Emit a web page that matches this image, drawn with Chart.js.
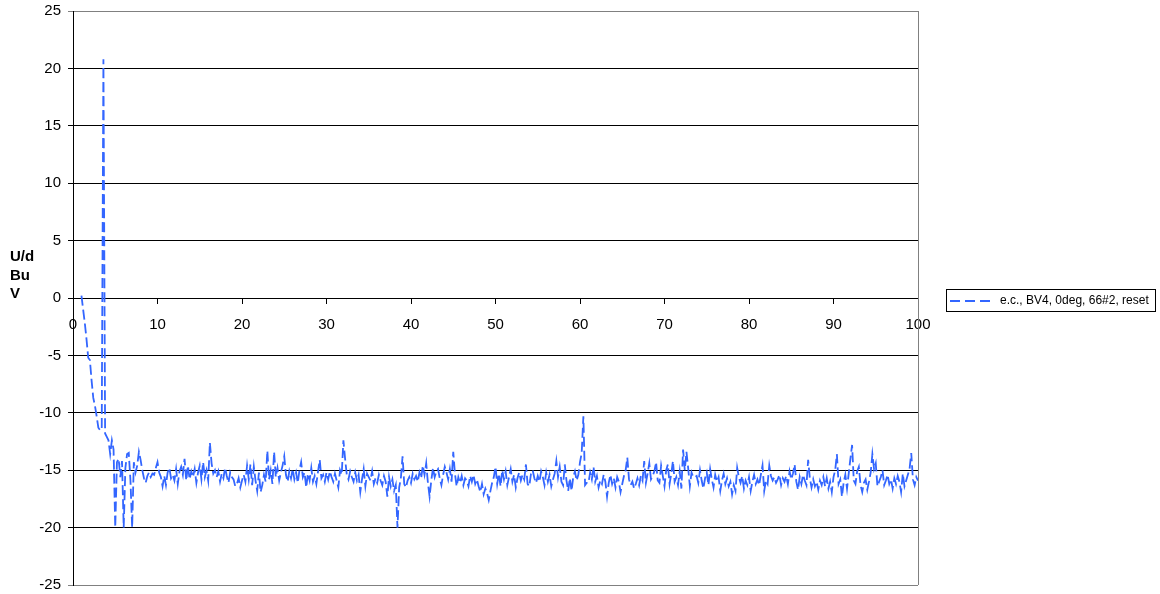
<!DOCTYPE html>
<html>
<head>
<meta charset="utf-8">
<script src="https://cdn.jsdelivr.net/npm/chart.js@4.4.1/dist/chart.umd.min.js"></script>
<style>
  body { margin: 0; background: #fff; }
  canvas { display: block; }
</style>
</head>
<body>
<canvas id="traceChart" width="1160" height="594"></canvas>
<script>
const seriesLabel = 'e.c., BV4, 0deg, 66#2, reset';
const axisTitleLines = ['U/d', 'Bu', 'V'];
const lineBlue = '#3366ff';

// samples start at x = 1.0, one every 0.2
const sampleStart = 1.0;
const sampleStep = 0.2;

// x 1.0 - 10.8
const part1 = [
    0.2, -1.0, -2.2, -3.6, -5.2, -5.4, -7.2, -8.7, -9.4, -10.3,
    -11.3, -11.5, -11.5, 20.8, -11.8, -12.1, -12.4, -13.6, -12.4, -13.2,
    -20.0, -14.3, -14.0, -15.6, -14.2, -20.0, -14.8, -13.6, -13.5, -15.9,
    -20.0, -14.3, -15.2, -14.6, -13.4, -14.1, -15.0, -15.7, -16.1, -15.5,
    -15.2, -15.6, -15.3, -15.4, -14.8, -14.3, -15.2, -15.6, -16.4, -15.5
];
// x 11.0 - 20.8
const part2 = [
    -16.3, -15.2, -14.8, -15.7, -15.4, -15.9, -14.9, -16.2, -15.1, -14.7,
    -15.4, -14.0, -15.9, -14.6, -15.8, -15.1, -15.6, -14.9, -16.1, -15.2,
    -14.6, -15.8, -14.3, -15.6, -15.0, -15.9, -12.6, -14.4, -15.3, -15.0,
    -15.6, -15.1, -16.0, -15.3, -15.7, -14.8, -15.5, -16.1, -15.2, -15.6,
    -15.8, -16.4, -16.2, -15.7, -16.5, -15.9, -15.4, -16.0, -14.6, -15.8
];
// x 21.0 - 30.8
const part3 = [
    -14.5, -16.3, -14.7, -15.9, -16.8, -15.2, -16.9, -16.3, -15.4, -16.0,
    -13.3, -15.8, -15.0, -16.2, -13.4, -15.6, -14.8, -15.9, -15.2, -14.6,
    -13.8, -15.4, -16.0, -15.1, -15.7, -14.9, -15.8, -15.2, -16.1, -15.0,
    -14.3, -15.6, -15.2, -16.5, -15.3, -15.9, -14.8, -16.0, -15.5, -16.2,
    -15.1, -14.1, -15.7, -15.4, -16.0, -15.2, -15.8, -15.1, -15.6, -16.0
];
// x 31.0 - 40.8
const part4 = [
    -15.3, -15.9, -16.5, -15.0, -15.4, -12.4, -14.0, -15.4, -15.8, -15.1,
    -15.6, -16.0, -15.2, -15.9, -15.4, -16.9, -15.8, -14.9, -16.4, -15.3,
    -15.6, -15.9, -15.1, -16.2, -15.7, -16.1, -15.4, -15.9, -16.3, -15.5,
    -16.0, -17.3, -15.6, -16.4, -15.8, -16.8, -16.3, -20.0, -16.5, -15.7,
    -13.8, -16.2, -16.5, -15.9, -15.6, -16.1, -15.3, -15.8, -15.5, -16.0
];
// x 41.0 - 50.8
const part5 = [
    -15.2, -15.7, -14.6, -15.4, -14.4, -16.1, -17.3, -15.9, -14.8, -15.6,
    -15.1, -14.9, -15.7, -16.3, -15.4, -14.7, -15.2, -15.8, -14.9, -16.0,
    -13.4, -15.3, -16.4, -15.6, -16.1, -15.5, -16.3, -15.7, -15.9, -16.4,
    -15.5, -16.0, -15.4, -16.2, -15.8, -16.4, -16.9, -16.2, -17.1, -16.6,
    -17.0, -17.6, -16.8, -16.1, -15.6, -14.7, -16.2, -15.3, -16.4, -15.0
];
// x 51.0 - 60.8
const part6 = [
    -15.8, -15.1, -16.3, -15.6, -14.9, -16.0, -15.4, -16.5, -15.7, -15.2,
    -15.9, -15.4, -15.8, -14.5, -16.2, -16.4, -15.3, -15.0, -15.7, -16.1,
    -15.5, -16.0, -15.1, -15.6, -16.3, -15.2, -16.0, -15.4, -16.4, -15.8,
    -15.3, -14.2, -15.6, -14.7, -16.0, -16.3, -14.5, -15.9, -16.8, -15.7,
    -16.8, -15.6, -15.1, -15.9, -15.4, -14.3, -13.5, -10.3, -16.3, -16.1
];
// x 61.0 - 70.8
const part7 = [
    -16.1, -15.2, -15.8, -14.7, -16.0, -15.5, -16.5, -15.9, -16.2, -15.4,
    -16.0, -17.3, -16.1, -15.4, -16.2, -15.7, -16.5, -15.6, -16.0, -16.9,
    -16.2, -15.5, -15.0, -13.9, -15.8, -16.3, -16.0, -16.6, -16.2, -15.7,
    -16.3, -15.5, -15.9, -14.2, -16.1, -15.3, -14.4, -15.8, -15.5, -15.1,
    -14.3, -15.9, -16.1, -14.6, -15.5, -16.4, -15.0, -14.5, -16.2, -15.3
];
// x 71.0 - 80.8
const part8 = [
    -14.2, -16.0, -15.6, -16.3, -15.1, -16.6, -13.2, -15.0, -13.4, -14.8,
    -16.4, -15.2, -15.6, -15.6, -15.5, -16.1, -15.0, -15.9, -16.6, -15.7,
    -15.2, -16.3, -14.9, -15.8, -16.5, -15.4, -16.0, -15.6, -16.8, -15.9,
    -15.3, -16.2, -15.7, -16.4, -16.0, -17.1, -16.3, -16.8, -14.8, -15.6,
    -16.1, -15.5, -16.6, -15.9, -16.3, -15.6, -16.8, -16.0, -15.4, -16.2
];
// x 81.0 - 90.8
const part9 = [
    -15.8, -16.3, -15.4, -14.6, -16.8, -15.9, -16.2, -14.6, -15.5, -15.9,
    -15.6, -16.1, -15.8, -15.4, -16.3, -15.7, -16.0, -15.5, -16.2, -15.1,
    -15.8, -15.3, -14.5, -16.0, -16.7, -15.6, -16.2, -15.4, -15.9, -16.3,
    -14.1, -15.7, -16.5, -15.8, -16.4, -16.0, -16.7, -15.9, -16.3, -15.6,
    -16.4, -15.7, -16.6, -16.0, -16.9, -15.6, -15.0, -13.6, -16.2, -15.8
];
// x 91.0 - 101.2
const part10 = [
    -17.3, -16.1, -15.4, -16.6, -15.3, -14.0, -12.8, -15.9, -16.2, -15.1,
    -14.7, -16.3, -16.9, -16.1, -15.8, -16.7, -16.0, -15.2, -13.6, -14.9,
    -14.4, -16.4, -16.0, -15.6, -15.0, -16.3, -15.9, -15.4, -16.2, -15.8,
    -16.6, -15.7, -16.2, -15.5, -16.0, -16.9, -15.3, -16.4, -15.9, -15.4,
    -14.9, -13.5, -15.8, -16.3, -15.6, -15.9, -16.1, -16.0, -15.9, -15.8,
    -15.8, -15.7
];

const xMin = 0, xMax = 100, xStep = 10;
const yMin = -25, yMax = 25, yStep = 5;

const allValues = [].concat(part1, part2, part3, part4, part5, part6, part7, part8, part9, part10);
const points = allValues.map((v, i) => ({ x: sampleStart + i * sampleStep, y: v }));

const tickFont = { family: 'Liberation Sans, Arial, sans-serif', size: 15 };

// gray frame on the right side of the plot
const plotFrame = {
    id: 'plotFrame',
    afterDraw(chart) {
        const { ctx, chartArea } = chart;
        ctx.save();
        ctx.strokeStyle = '#808080';
        ctx.lineWidth = 1;
        ctx.beginPath();
        ctx.moveTo(Math.round(chartArea.right) + 0.5, chartArea.top);
        ctx.lineTo(Math.round(chartArea.right) + 0.5, chartArea.bottom);
        ctx.stroke();
        ctx.restore();
    }
};

// stacked, unrotated y title at the far left
const yTitle = {
    id: 'yTitle',
    afterDraw(chart) {
        const ctx = chart.ctx;
        ctx.save();
        ctx.fillStyle = '#000';
        ctx.font = 'bold 15px Liberation Sans, Arial, sans-serif';
        ctx.textBaseline = 'middle';
        ctx.textAlign = 'left';
        axisTitleLines.forEach((t, i) => ctx.fillText(t, 10, 257 + i * 18.5));
        ctx.restore();
    }
};

// boxed legend to the right of the plot
const legendBox = {
    id: 'legendBox',
    afterDraw(chart) {
        const ctx = chart.ctx;
        const ds = chart.data.datasets[0];
        ctx.save();
        ctx.strokeStyle = '#000';
        ctx.lineWidth = 1;
        ctx.strokeRect(946.5, 289.5, 209, 22);
        ctx.strokeStyle = ds.borderColor;
        ctx.lineWidth = 2;
        ctx.setLineDash([10, 5]);
        ctx.beginPath();
        ctx.moveTo(950, 301);
        ctx.lineTo(991, 301);
        ctx.stroke();
        ctx.setLineDash([]);
        ctx.fillStyle = '#000';
        ctx.font = '12px Liberation Sans, Arial, sans-serif';
        ctx.textBaseline = 'middle';
        ctx.fillText(ds.label, 1000, 301);
        ctx.restore();
    }
};

document.addEventListener('DOMContentLoaded', () => {
    const canvas = document.getElementById('traceChart');

    new Chart(canvas, {
        type: 'line',
        data: {
            datasets: [{
                label: seriesLabel,
                data: points,
                borderColor: lineBlue,
                borderWidth: 1.8,
                borderDash: [10, 4],
                pointRadius: 0,
                fill: false,
                tension: 0,
                clip: false
            }]
        },
        options: {
            responsive: false,
            animation: false,
            layout: {
                padding: { top: 11, right: 242, bottom: 9, left: 0 }
            },
            scales: {
                x: {
                    type: 'linear',
                    min: xMin,
                    max: xMax,
                    position: { y: 0 },
                    ticks: {
                        stepSize: xStep,
                        color: '#000',
                        font: tickFont,
                        padding: 13,
                        maxRotation: 0
                    },
                    grid: {
                        drawOnChartArea: false,
                        drawTicks: true,
                        tickLength: 5,
                        color: '#000'
                    },
                    border: { color: '#000' }
                },
                y: {
                    min: yMin,
                    max: yMax,
                    ticks: {
                        stepSize: yStep,
                        color: '#000',
                        font: tickFont,
                        padding: 7
                    },
                    grid: {
                        color: (c) => (c.tick && (c.tick.value === yMax || c.tick.value === yMin)) ? '#808080' : '#000',
                        tickLength: 5
                    },
                    border: { color: '#000' },
                    afterFit: (scale) => {
                        scale.width = 73;
                        // let the layout padding alone decide top and bottom
                        scale.paddingTop = 0;
                        scale.paddingBottom = 0;
                    }
                }
            },
            plugins: {
                legend: { display: false },
                tooltip: { enabled: false }
            }
        },
        plugins: [plotFrame, yTitle, legendBox]
    });
});
</script>
</body>
</html>
